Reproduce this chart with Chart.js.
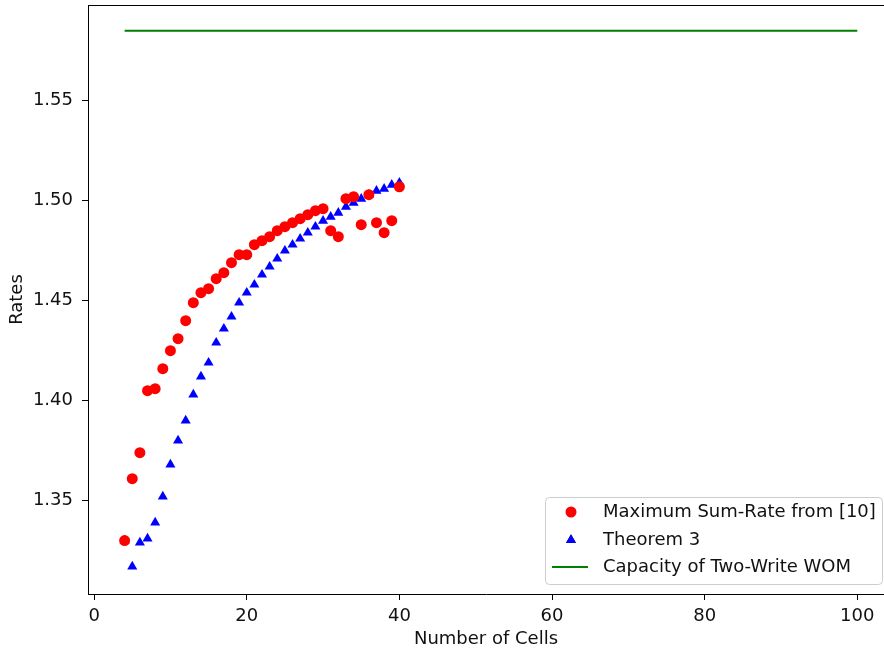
<!DOCTYPE html>
<html>
<head>
<meta charset="utf-8">
<script src="https://cdn.jsdelivr.net/npm/chart.js@4/dist/chart.umd.min.js"></script>
<style>
  html, body { margin: 0; padding: 0; background: #fff; overflow: hidden; }
  #wrap { width: 884px; height: 654px; }
</style>
</head>
<body>
<div id="wrap"><canvas id="chart" width="884" height="654"></canvas></div>
<script>
// number of cells on the x axis
var cells = [4,5,6,7,8,9,10,11,12,13,14,15,16,17,18,19,20,21,22,23,24,25,26,27,28,29,30,31,32,33,34,35,36,37,38,39,40];
// Maximum Sum-Rate from [10]
var sumRate = [1.330,1.361,1.374,1.405,1.406,1.416,1.425,1.431,1.440,1.449,1.454,1.456,1.461,1.464,1.469,1.473,1.473,1.478,1.480,1.482,1.485,1.487,1.489,1.491,1.493,1.495,1.496,1.485,1.482,1.501,1.502,1.488,1.503,1.489,1.484,1.490,1.507];
// Theorem 3
var theorem3 = [1.330,1.317,1.329,1.331,1.339,1.352,1.368,1.380,1.390,1.403,1.412,1.419,1.429,1.436,1.442,1.449,1.454,1.458,1.463,1.467,1.471,1.475,1.478,1.481,1.484,1.487,1.490,1.492,1.494,1.497,1.499,1.501,1.503,1.505,1.506,1.508,1.509];
// capacity of two-write WOM, log2(3)
var capacityX = [4, 100];
var capacity = 1.585;

var xTicks = [0, 20, 40, 60, 80, 100];
var yTicks = [1.35, 1.40, 1.45, 1.50, 1.55];

var FONT = 'DejaVu Sans';
var fs = 18;

function pts(xs, ys) {
    return xs.map(function (x, i) { return {x: x, y: ys[i]}; });
}

// top spine (right one falls outside the picture)
var frame = {
    id: 'frame',
    beforeDatasetsDraw: function (chart) {
        var a = chart.chartArea, ctx = chart.ctx;
        ctx.save();
        ctx.strokeStyle = '#000';
        ctx.lineWidth = 1;
        ctx.beginPath();
        ctx.moveTo(a.left, a.top + 0.5);
        ctx.lineTo(a.right, a.top + 0.5);
        ctx.stroke();
        ctx.restore();
    }
};

// matplotlib-like legend in the lower right
var boxLegend = {
    id: 'boxLegend',
    afterDraw: function (chart) {
        var ctx = chart.ctx;
        var x0 = 545, y0 = 497, x1 = 883, y1 = 584;
        ctx.save();
        ctx.globalAlpha = 0.8;
        ctx.fillStyle = '#fff';
        ctx.strokeStyle = '#cccccc';
        ctx.lineWidth = 1;
        ctx.beginPath();
        ctx.roundRect(x0 + 0.5, y0 + 0.5, x1 - x0 - 1, y1 - y0, 4);
        ctx.fill();
        ctx.globalAlpha = 1;
        ctx.stroke();
        var rows = [512, 540, 567];
        chart.data.datasets.forEach(function (ds, i) {
            var y = rows[i];
            if (ds.type === 'line') {
                ctx.strokeStyle = ds.borderColor;
                ctx.lineWidth = ds.borderWidth;
                ctx.beginPath();
                ctx.moveTo(552, y);
                ctx.lineTo(588, y);
                ctx.stroke();
            } else {
                Chart.helpers.drawPoint(ctx, {
                    pointStyle: ds.pointStyle,
                    radius: ds.pointRadius,
                    borderWidth: 0
                }, 571, y);
                ctx.fillStyle = ds.backgroundColor;
                ctx.fill();
            }
            ctx.fillStyle = '#111';
            ctx.font = fs + 'px "' + FONT + '"';
            ctx.textBaseline = 'middle';
            ctx.textAlign = 'left';
            ctx.fillText(ds.label, 603, y);
        });
        ctx.restore();
    }
};

new Chart(document.getElementById('chart'), {
    type: 'scatter',
    data: {
        datasets: [
            {
                label: 'Maximum Sum-Rate from [10]',
                data: pts(cells, sumRate),
                pointStyle: 'circle',
                pointRadius: 5.5,
                pointHoverRadius: 5.5,
                backgroundColor: '#ff0000',
                borderWidth: 0
            },
            {
                label: 'Theorem 3',
                data: pts(cells, theorem3),
                pointStyle: 'triangle',
                pointRadius: 5.8,
                pointHoverRadius: 5.8,
                backgroundColor: '#0000ff',
                borderWidth: 0
            },
            {
                type: 'line',
                label: 'Capacity of Two-Write WOM',
                data: pts(capacityX, [capacity, capacity]),
                borderColor: '#008000',
                borderWidth: 2,
                pointRadius: 0,
                fill: false
            }
        ]
    },
    options: {
        responsive: false,
        animation: false,
        devicePixelRatio: 1,
        layout: {autoPadding: false, padding: {top: 5, right: 0, left: 0, bottom: 0}},
        plugins: {
            legend: {display: false},
            tooltip: {enabled: false}
        },
        scales: {
            x: {
                type: 'linear',
                min: -0.8,
                max: 103.5,
                afterBuildTicks: function (s) {
                    s.ticks = xTicks.map(function (v) { return {value: v}; });
                },
                afterFit: function (s) {
                    s.height = 60;
                    s.paddingLeft = 0;
                    s.paddingRight = 0;
                },
                grid: {drawOnChartArea: false, drawTicks: true, tickLength: 6, color: '#000'},
                border: {display: true, color: '#000', width: 1},
                ticks: {
                    padding: 6,
                    color: '#111',
                    font: {family: FONT, size: fs},
                    maxRotation: 0,
                    callback: function (v) { return String(v); }
                },
                title: {
                    display: true,
                    text: 'Number of Cells',
                    color: '#111',
                    font: {family: FONT, size: fs},
                    padding: {top: 0, bottom: 4}
                }
            },
            y: {
                type: 'linear',
                min: 1.3033,
                max: 1.5979,
                afterBuildTicks: function (s) {
                    s.ticks = yTicks.map(function (v) { return {value: v}; });
                },
                afterFit: function (s) {
                    s.width = 88;
                    s.paddingTop = 0;
                    s.paddingBottom = 0;
                },
                grid: {drawOnChartArea: false, drawTicks: true, tickLength: 6, color: '#000'},
                border: {display: true, color: '#000', width: 1},
                ticks: {
                    padding: 9,
                    color: '#111',
                    font: {family: FONT, size: fs},
                    callback: function (v) { return v.toFixed(2); }
                },
                title: {
                    display: true,
                    text: 'Rates',
                    color: '#111',
                    font: {family: FONT, size: fs},
                    padding: {top: 7, bottom: 0}
                }
            }
        }
    },
    plugins: [frame, boxLegend]
});
</script>
</body>
</html>
